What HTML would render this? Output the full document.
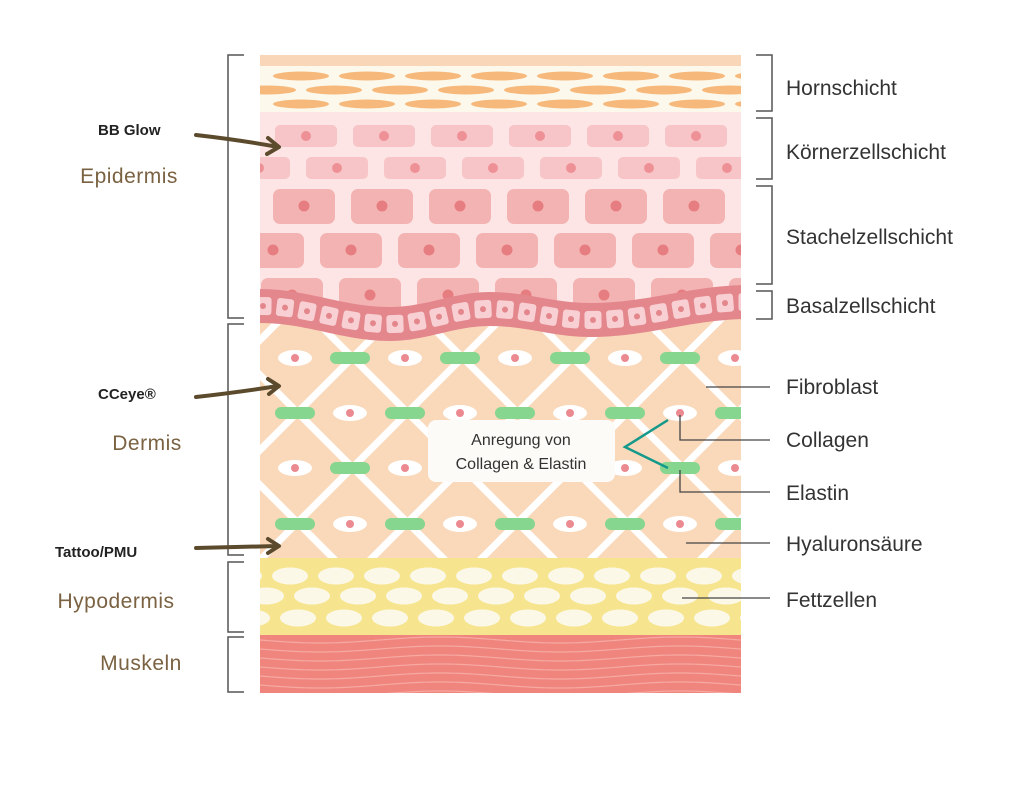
<!DOCTYPE html>
<html><head><meta charset="utf-8"><style>
html,body{margin:0;padding:0;background:#fff;width:1024px;height:785px;overflow:hidden}
svg{display:block;overflow:hidden}
text{font-family:"Liberation Sans",sans-serif}
</style></head><body>
<svg id="s" width="1024" height="785" viewBox="0 0 1024 785" xmlns="http://www.w3.org/2000/svg">
<defs>
<clipPath id="tc"><rect x="260" y="55" width="481" height="638"/></clipPath>
<clipPath id="dc"><rect x="260" y="300" width="481" height="258"/></clipPath>
</defs>
<g clip-path="url(#tc)">
<rect x="260" y="55" width="481" height="11" fill="#f9d6b8"/>
<rect x="260" y="66" width="481" height="46" fill="#fcf9ec"/>
<g id="horn"></g>
<rect x="260" y="112" width="481" height="210" fill="#fce5e4"/>
<g id="kz"></g>
<path id="dermbg" fill="#fad9bb"/>
<g id="lat" clip-path="url(#dc)"></g>
<g id="derm"></g>
<g id="basal"></g>
<rect x="260" y="558" width="481" height="77" fill="#f6e58e"/>
<g id="fat"></g>
<rect x="260" y="635" width="481" height="58" fill="#ef857d"/>
<g id="mus"></g>
</g>
<rect x="428" y="420" width="187" height="62" rx="8" fill="#fdfbf7"/>
<text x="521" y="445" font-size="16" fill="#333" text-anchor="middle">Anregung von</text>
<text x="521" y="469" font-size="16" fill="#333" text-anchor="middle">Collagen &amp; Elastin</text>
<polyline points="668,420 625,447 668,468" fill="none" stroke="#14998a" stroke-width="2.5"/>
<g stroke="#444" stroke-width="1.3" fill="none">
<line x1="706" y1="387" x2="770" y2="387"/>
<polyline points="680,415 680,440 770,440"/>
<polyline points="680,470 680,492 770,492"/>
<line x1="686" y1="543" x2="770" y2="543"/>
<line x1="682" y1="598" x2="770" y2="598"/>
</g>
<g stroke="#555" stroke-width="1.5" fill="none">
<polyline points="756,55 772,55 772,111 756,111"/>
<polyline points="756,118 772,118 772,179 756,179"/>
<polyline points="756,186 772,186 772,284 756,284"/>
<polyline points="756,291 772,291 772,319 756,319"/>
<polyline points="244,55 228,55 228,318 244,318"/>
<polyline points="244,324 228,324 228,555 244,555"/>
<polyline points="244,562 228,562 228,632 244,632"/>
<polyline points="244,637 228,637 228,692 244,692"/>
</g>
<g font-size="21" fill="#333">
<text x="786" y="95">Hornschicht</text>
<text x="786" y="159">Körnerzellschicht</text>
<text x="786" y="244">Stachelzellschicht</text>
<text x="786" y="313">Basalzellschicht</text>
<text x="786" y="394">Fibroblast</text>
<text x="786" y="447">Collagen</text>
<text x="786" y="500">Elastin</text>
<text x="786" y="551">Hyaluronsäure</text>
<text x="786" y="607">Fettzellen</text>
</g>
<g font-size="21" fill="#7a6242" text-anchor="middle" letter-spacing="0.5">
<text x="129" y="183">Epidermis</text>
<text x="147" y="450">Dermis</text>
<text x="116" y="608">Hypodermis</text>
<text x="141" y="670">Muskeln</text>
</g>
<g font-size="15" font-weight="bold" fill="#222">
<text x="98" y="135">BB Glow</text>
<text x="98" y="399">CCeye®</text>
<text x="55" y="557">Tattoo/PMU</text>
</g>
<g stroke="#5c4a2c" stroke-width="4" fill="none" stroke-linecap="round" stroke-linejoin="round">
<path d="M196,135 Q240,140 278,147"/><polyline points="268,138 279,147 267,154"/>
<path d="M196,397 Q240,392 278,386"/><polyline points="268,379 279,386 269,394"/>
<path d="M196,548 L278,546"/><polyline points="268,539 279,546 268,553"/>
</g>
</svg>
<script>
(function(){
var NS="http://www.w3.org/2000/svg";
function el(p,t,a){var e=document.createElementNS(NS,t);for(var k in a)e.setAttribute(k,a[k]);document.getElementById(p).appendChild(e);return e;}
[[76,273],[90,240],[104,273]].forEach(function(r){for(var x=r[1];x<760;x+=66)el('horn','ellipse',{cx:x+28,cy:r[0],rx:28,ry:4.5,fill:'#f6b97b'});});
[[125,275],[157,228]].forEach(function(r){for(var x=r[1];x<760;x+=78){el('kz','rect',{x:x,y:r[0],width:62,height:22,rx:5,fill:'#f7c5c7'});el('kz','circle',{cx:x+31,cy:r[0]+11,r:5,fill:'#ee9196'});}});
[[189,273],[233,242],[278,261]].forEach(function(r){for(var x=r[1];x<760;x+=78){el('kz','rect',{x:x,y:r[0],width:62,height:35,rx:7,fill:'#f4b3b3'});el('kz','circle',{cx:x+31,cy:r[0]+17,r:5.5,fill:'#e67d80'});}});
var P=[[240,304],[260,306],[390,324],[490,309],[590,320],[750,302],[770,302]];
function cyf(x){for(var i=0;i<P.length-1;i++){if(x<=P[i+1][0]){var t=(x-P[i][0])/(P[i+1][0]-P[i][0]);var s=(1-Math.cos(t*Math.PI))/2;return P[i][1]+(P[i+1][1]-P[i][1])*s;}}return P[P.length-1][1];}
var dp='M250,'+cyf(250);for(var x=255;x<=750;x+=5)dp+=' L'+x+','+cyf(x).toFixed(1);dp+=' L750,560 L250,560 Z';
document.getElementById('dermbg').setAttribute('d',dp);
var lat=document.getElementById('lat');lat.setAttribute('clip-path','');
var cp=document.createElementNS(NS,'clipPath');cp.setAttribute('id','dc2');var cpp=document.createElementNS(NS,'path');cpp.setAttribute('d',dp);cp.appendChild(cpp);document.querySelector('defs').appendChild(cp);lat.setAttribute('clip-path','url(#dc2)');
for(var k=-10;k<10;k++){var c=-5+110*k;el('lat','line',{x1:0,y1:-c,x2:1100,y2:1100-c,stroke:'#fff','stroke-width':7});var d=710+110*k;el('lat','line',{x1:0,y1:d,x2:1100,y2:d-1100,stroke:'#fff','stroke-width':7});}
function eye(x,y){el('derm','ellipse',{cx:x,cy:y,rx:17,ry:8,fill:'#fff'});el('derm','circle',{cx:x,cy:y,r:4,fill:'#ec8a92'});}
function gr(x,y){el('derm','rect',{x:x-20,y:y-6,width:40,height:12,rx:6,fill:'#86d690'});}
[358,413,468,524].forEach(function(y,i){for(var j=0;j<9;j++){var x=295+55*j;var isEye=((j%2==0)==(i%2==0));if(isEye)eye(x,y);else gr(x,y);}});
var tp=[],bt=[];for(var x=250;x<=750;x+=5){var y=cyf(x);tp.push(x+','+(y-17));bt.unshift(x+','+(y+17));}
el('basal','polygon',{points:tp.concat(bt).join(' '),fill:'#e3878d'});
for(var x=263;x<750;x+=22){var y=cyf(x);var dy=(cyf(x+1)-cyf(x-1))/2;var a=Math.atan(dy)*180/Math.PI;var g=el('basal','g',{transform:'translate('+x+','+y+') rotate('+a+')'});
var r=document.createElementNS(NS,'rect');r.setAttribute('x',-8.5);r.setAttribute('y',-9);r.setAttribute('width',17);r.setAttribute('height',18);r.setAttribute('rx',3);r.setAttribute('fill','#f8cfd2');g.appendChild(r);
var c2=document.createElementNS(NS,'circle');c2.setAttribute('r',3);c2.setAttribute('fill','#e3878d');g.appendChild(c2);}
[[576,290],[596,266],[618,298]].forEach(function(r){for(var x=r[1]-46;x<770;x+=46)el('fat','ellipse',{cx:x,cy:r[0],rx:18,ry:8.5,fill:'#fbf8e8'});});
for(var y=640;y<700;y+=9){var p='M255,'+y;for(var x=255;x<=745;x+=5){p+=' L'+x+','+(y+3*Math.sin((x-260)/240*Math.PI*2)).toFixed(1);}el('mus','path',{d:p,stroke:'#f6aaa2','stroke-width':1.2,fill:'none'});}
})();
</script>
</body></html>
